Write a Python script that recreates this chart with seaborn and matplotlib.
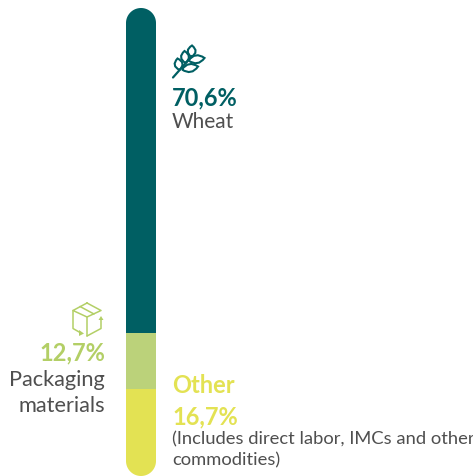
import matplotlib
matplotlib.use("Agg")
import matplotlib.pyplot as plt
import numpy as np
import pandas as pd
import seaborn as sns
from matplotlib.patches import PathPatch, Polygon
from matplotlib.path import Path

# segment heights as drawn (bottom to top), the printed labels differ a bit
segmentos = ["Other", "Packaging materials", "Wheat"]
alturas = [18.6, 12.0, 69.4]
cores = ["#e3e253", "#bbd27a", "#005f63"]

rotulos = ["70,6%", "12,7%", "16,7%"]
cinza = "#4f4f4f"

W, H = 473, 477

sns.set_style("white")
plt.rcParams["font.family"] = ["Lato", "DejaVu Sans"]

fig = plt.figure(figsize=(W / 100, H / 100), dpi=100)

# axes covers the bar only, so 0-100 maps on its whole height
ax = fig.add_axes([126 / W, 0, 30 / W, (H - 9) / H])
df = pd.DataFrame({"grupo": [""] * 3, "segmento": segmentos, "altura": alturas})

base = 0
for seg, alt, cor in zip(segmentos, alturas, cores):
    sns.barplot(data=df[df["segmento"] == seg], x="grupo", y="altura", color=cor,
                width=1, bottom=base, saturation=1, linewidth=0, ax=ax)
    base += alt
ax.set_xlim(-0.5, 0.5)
ax.set_ylim(0, 100)
ax.axis("off")

# overlay in pixels for rounded ends, icons and labels
ov = fig.add_axes([0, 0, 1, 1], facecolor="none")
ov.set_xlim(0, W)
ov.set_ylim(H, 0)
ov.axis("off")

# full half circles at both ends of the bar
t = np.linspace(0, np.pi, 40)
topo = np.column_stack([141 - 15 * np.cos(t), 24 - 15 * np.sin(t)])
fundo = np.column_stack([141 + 15 * np.cos(t), 462 + 15 * np.sin(t)])
clip = Polygon(np.vstack([topo, fundo]), closed=True, transform=ov.transData,
               facecolor="none", edgecolor="none")
ov.add_patch(clip)
for p in ax.patches:
    p.set_clip_path(clip)


def folha(ov, base_pt, ponta, larg, cor):
    # pointed leaf, two quadratic curves between base and tip
    b, p = np.array(base_pt), np.array(ponta)
    meio = (b + p) / 2
    d = p - b
    n = np.array([-d[1], d[0]]) / np.hypot(*d) * larg
    verts = [b, meio + n, p, meio - n, b]
    codes = [Path.MOVETO, Path.CURVE3, Path.CURVE3, Path.CURVE3, Path.CURVE3]
    ov.add_patch(PathPatch(Path(verts, codes), facecolor="white", edgecolor=cor, lw=1.5))


# wheat icon
verde = cores[2]
ov.plot([173, 192], [78.5, 57], color=verde, lw=1.6, solid_capstyle="round")
folhas = [((191.3, 58), (192, 46.5)), ((185.5, 64), (184.5, 52)), ((179.7, 71), (177.5, 59.5)),
          ((188.5, 61.5), (204.5, 59)), ((182, 70.5), (198, 67.5))]
for b, p in folhas:
    folha(ov, b, p, 8, verde)

# box icon
vc = "#b3cf66"
caixa = [
    ([87, 101, 87, 73, 87], [304, 311.5, 318, 311.5, 304]),
    ([87, 87], [318, 337]),
    ([73, 73, 80], [311.5, 329.5, 333.5]),
    ([87, 101, 101], [337, 329.5, 320]),
    ([80, 94], [307.5, 315]),
]
for xs, ys in caixa:
    ov.plot(xs, ys, color=vc, lw=1.1)
ov.fill([79, 84, 79], [331, 334.5, 337], color=vc, lw=0)
ov.fill([98.5, 103.5, 101], [321, 321, 317], color=vc, lw=0)

# labels
ov.text(172, 98, rotulos[0], color=verde, fontsize=17, fontweight="bold", va="center")
ov.text(172, 122.5, "Wheat", color=cinza, fontsize=15, va="center")

ov.text(105, 353, rotulos[1], color=vc, fontsize=17, fontweight="bold", va="center", ha="right")
ov.text(105, 380.5, "Packaging", color=cinza, fontsize=15.7, va="center", ha="right")
ov.text(105, 406.5, "materials", color=cinza, fontsize=15.7, va="center", ha="right")

ov.text(172, 386, "Other", color=cores[0], fontsize=17, fontweight="bold", va="center")
ov.text(172, 417, rotulos[2], color=cores[0], fontsize=17, fontweight="bold", va="center")
ov.text(172, 439, "(Includes direct labor, IMCs and other", color=cinza, fontsize=13.2, va="center")
ov.text(172, 460, "commodities)", color=cinza, fontsize=13.2, va="center")

fig.savefig("out.png", dpi=100, facecolor="white")
